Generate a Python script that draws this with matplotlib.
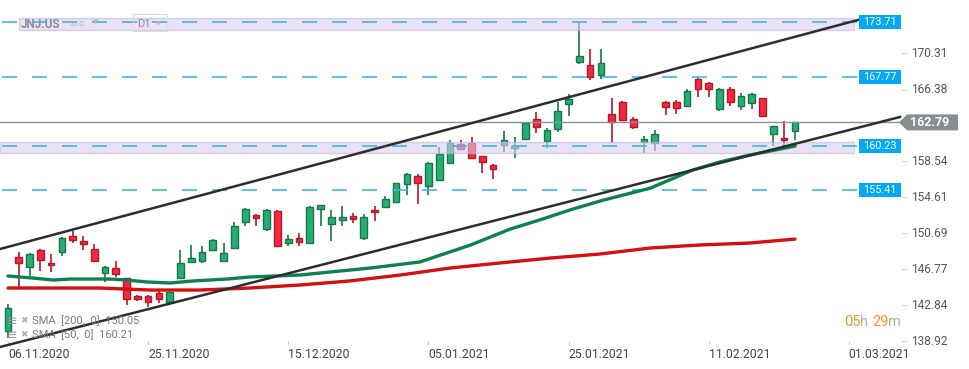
import numpy as np
import matplotlib
matplotlib.use("Agg")
import matplotlib.pyplot as plt
from matplotlib.patches import Rectangle, Polygon
from matplotlib.transforms import blended_transform_factory

plt.rcParams['font.family'] = ['Roboto', 'DejaVu Sans']

# ---------------------------------------------------------------------------
# Data: JNJ.US daily candles (bar index 0 = 06.11.2020)
# ---------------------------------------------------------------------------
opens = [140.02, 148.09, 147.00, 148.86, 147.44, 148.64, 150.39, 149.84, 148.97, 146.35,
         146.89, 145.80, 143.84, 143.84, 144.16, 143.18, 145.80, 147.55, 147.66, 148.86,
         147.66, 149.08, 151.92, 152.68, 151.15, 153.12, 149.62, 150.17, 149.62, 153.33,
         151.70, 152.13, 152.57, 150.17, 153.22, 153.55, 154.10, 156.06, 156.94, 155.84,
         156.50, 158.36, 160.43, 160.54, 159.12, 158.14, 160.32, 159.99, 160.98, 163.16,
         160.76, 162.07, 164.80, 169.38, 169.05, 167.96, 163.71, 165.02, 163.16, 160.65,
         160.54, 165.02, 165.02, 164.58, 167.53, 167.09, 164.25, 166.43, 164.58, 164.91,
         165.45, 161.52, 161.09, 161.85]
highs = [142.96, 148.64, 148.50, 149.00, 148.42, 150.28, 150.93, 150.39, 149.51, 147.11,
         147.66, 145.85, 143.95, 143.90, 144.38, 144.30, 148.86, 149.40, 149.29, 150.06,
         149.62, 151.92, 153.40, 152.75, 153.33, 153.22, 150.50, 150.71, 153.66, 153.80,
         153.22, 153.66, 152.90, 152.79, 153.66, 154.75, 156.20, 157.27, 157.16, 158.47,
         160.10, 160.87, 160.87, 161.19, 159.15, 158.25, 161.85, 161.19, 162.83, 163.92,
         162.18, 165.02, 165.89, 173.60, 170.80, 170.80, 165.45, 165.10, 163.38, 161.30,
         161.96, 165.10, 165.23, 166.43, 167.64, 167.20, 166.54, 166.65, 166.00, 166.00,
         165.50, 162.45, 162.94, 162.85]
lows = [139.25, 144.82, 146.02, 146.57, 146.46, 148.20, 149.62, 148.86, 147.66, 145.36,
        145.91, 142.85, 143.29, 142.63, 143.07, 143.10, 145.69, 147.44, 147.44, 148.86,
        147.66, 149.08, 151.48, 151.48, 150.93, 149.29, 149.29, 149.29, 149.62, 151.48,
        149.84, 151.48, 151.81, 149.95, 152.02, 153.55, 154.00, 154.86, 153.88, 154.86,
        156.50, 158.25, 159.77, 158.90, 157.26, 156.61, 159.56, 158.90, 160.98, 161.63,
        159.99, 161.74, 163.49, 169.16, 167.42, 167.53, 160.54, 162.94, 162.07, 159.45,
        159.67, 163.60, 163.71, 164.50, 165.56, 165.56, 164.03, 164.58, 164.14, 164.25,
        163.45, 160.21, 160.32, 160.87]
closes = [142.53, 147.44, 148.42, 147.77, 147.22, 150.17, 150.00, 149.51, 147.66, 147.00,
          146.24, 143.51, 143.51, 143.18, 143.51, 144.27, 147.44, 147.98, 148.64, 149.95,
          148.53, 151.48, 153.33, 152.35, 153.22, 149.29, 150.06, 149.73, 153.55, 153.77,
          152.46, 152.46, 152.24, 152.46, 153.01, 154.43, 156.17, 157.16, 156.17, 158.36,
          159.34, 160.54, 159.88, 158.90, 158.47, 157.70, 160.87, 160.21, 162.72, 162.29,
          161.96, 164.03, 165.34, 170.04, 167.74, 169.27, 162.83, 163.05, 162.29, 160.98,
          161.52, 164.47, 164.36, 166.22, 166.43, 166.43, 166.43, 165.02, 165.67, 165.89,
          163.49, 162.40, 160.87, 162.79]

# moving averages, read at a few bars
sma50_idx = [0, 2.3, 4.2, 5.8, 9.5, 11, 12.9, 15, 17.2, 20.3, 22.4, 27.1, 29.9, 33.6,
             38.2, 42.9, 46.6, 49.3, 52.1, 55.2, 59.6, 63.5, 66, 68.8, 73]
sma50_val = [146.02, 145.80, 145.58, 145.69, 145.69, 145.58, 145.37, 145.26, 145.48,
             145.69, 145.91, 146.13, 146.46, 146.89, 147.55, 149.40, 151.15, 152.13,
             153.22, 154.30, 155.62, 157.58, 158.46, 159.22, 160.21]
sma200_idx = [0, 8.5, 13.2, 17.8, 22.4, 27.1, 31.7, 36.4, 41, 45.6, 50.3, 54.9, 59.6,
              64.2, 68.8, 73]
sma200_val = [144.71, 144.71, 144.49, 144.49, 144.71, 145.04, 145.48, 146.13, 146.89,
              147.44, 147.98, 148.42, 149.08, 149.41, 149.62, 150.05]

# drawn objects
upper_chan_x = [-0.74, 78.85]
upper_chan_y = [148.97, 173.97]
lower_chan_x = [-0.74, 82.75]
lower_chan_y = [138.27, 163.38]
levels = [173.71, 167.77, 160.23, 155.41]
zone_low = [172.88, 159.45]
zone_high = [174.19, 160.65]
zone_start = [1.0, -0.74]
last_price = 162.79

price_ticks = [170.31, 166.38, 158.54, 154.61, 150.69, 146.77, 142.84, 138.92]
date_idx = [0, 13, 26, 39, 52, 65, 78]
date_labels = ["06.11.2020", "25.11.2020", "15.12.2020", "05.01.2021",
               "25.01.2021", "11.02.2021", "01.03.2021"]

# ---------------------------------------------------------------------------
# Figure
# ---------------------------------------------------------------------------
W, H = 970, 369
AX_W, AX_H, AX_B = 858, 345, 24
fig = plt.figure(figsize=(W / 100, H / 100), dpi=100)
ax = fig.add_axes([0, AX_B / H, AX_W / W, AX_H / H])
ax.set_xlim(-0.742, 78.85)
ax.set_ylim(138.49, 176.15)
for s in ax.spines.values():
    s.set_visible(False)

GREEN, GREEN_E = "#27ae74", "#187548"
RED, RED_E = "#f2293f", "#b3192b"
BLUE = "#03a9f4"

o = np.array(opens)
c = np.array(closes)
hi = np.array(highs)
lo = np.array(lows)
x = np.arange(len(o))
up = c >= o
px_price = (176.15 - 138.49) / AX_H

ax.vlines(x[up], lo[up], hi[up], color=GREEN_E, lw=1.2, zorder=2)
ax.vlines(x[~up], lo[~up], hi[~up], color=RED_E, lw=1.2, zorder=2)
body_h = np.maximum(np.abs(c - o), 2 * px_price)
ax.bar(x[up], body_h[up], bottom=np.minimum(o, c)[up], width=0.62,
       color=GREEN, edgecolor=GREEN_E, lw=1.0, zorder=3)
ax.bar(x[~up], body_h[~up], bottom=np.minimum(o, c)[~up], width=0.62,
       color=RED, edgecolor=RED_E, lw=1.0, zorder=3)

# zones
for z0, z1, xs in zip(zone_low, zone_high, zone_start):
    ax.add_patch(Rectangle((xs, z0), 78.5 - xs, z1 - z0, facecolor="#d9cfee",
                           edgecolor="#c2b4e0", lw=1.0, alpha=0.6, zorder=4))

# moving averages
ax.plot(sma200_idx, sma200_val, color="#d40f0f", lw=2.4, zorder=5,
        solid_capstyle="round")
ax.plot(sma50_idx, sma50_val, color="#0f8050", lw=2.4, zorder=5,
        solid_capstyle="round")

# horizontal levels
for lv in levels:
    ax.plot([-0.557, 78.85], [lv, lv], color="#42b4f0", lw=1.2,
            linestyle=(0, (9, 9)), zorder=4.5)

# current price line (goes into the label column)
ax.plot([-0.742, (899 - 8) / 10.78], [last_price, last_price], color="#8a9399",
        lw=1.0, zorder=4.6, clip_on=False)

# channel
ax.plot(upper_chan_x, upper_chan_y, color="#2a2e33", lw=1.8, zorder=6, clip_on=False)
ax.plot(lower_chan_x, lower_chan_y, color="#2a2e33", lw=1.8, zorder=6, clip_on=False)

# right-hand labels
tr = blended_transform_factory(ax.transAxes, ax.transData)
fx = lambda p: p / AX_W
for pt in price_ticks:
    ax.plot([fx(902), fx(907)], [pt, pt], color="#d8d8d8", lw=0.8,
            transform=tr, clip_on=False)
    ax.text(fx(911), pt, f"{pt:.2f}", transform=tr, ha="left", va="center",
            fontsize=8.6, color="#555555")

for lv in levels:
    hh = 7 * px_price
    ax.add_patch(Rectangle((fx(859), lv - hh), fx(42), 2 * hh, transform=tr,
                           facecolor=BLUE, edgecolor="none", clip_on=False, zorder=7))
    ax.text(fx(880), lv, f"{lv:.2f}", transform=tr, ha="center", va="center",
            fontsize=7.8, color="white", zorder=8)

th = 8 * px_price
ax.add_patch(Polygon([(fx(899), last_price), (fx(907), last_price + th),
                      (fx(958), last_price + th), (fx(958), last_price - th),
                      (fx(907), last_price - th)], closed=True, transform=tr,
                     facecolor="#868e92", edgecolor="none", clip_on=False, zorder=7))
ax.text(fx(930), last_price, f"{last_price:.2f}", transform=tr, ha="center",
        va="center", fontsize=9, fontweight="bold", color="white", zorder=8)

# date axis
ax.set_yticks([])
ax.set_xticks(date_idx)
ax.set_xticklabels(date_labels, ha="left", fontsize=8.8, color="#444444")
ax.tick_params(axis="x", direction="in", length=3, width=0.8, color="#d0d0d0", pad=2)
for lab in ax.get_xticklabels():
    lab.set_x(lab.get_position()[0])

# header
FX = lambda p: p / W
FY = lambda p: 1 - p / H
fig.text(FX(21), FY(24), "JNJ.US", fontsize=8.5, fontweight="bold",
         color="#8e8e9c", va="center", zorder=9)
fig.text(FX(70), FY(24), "STC", fontsize=6, color="#a8a8b4", va="center")
fig.text(FX(93), FY(23), "\u25BC", fontsize=5, color="#b4b4bc", va="center")
fig.patches.append(Rectangle((FX(133), FY(31)), FX(34), 17 / H, transform=fig.transFigure,
                             facecolor="none", edgecolor="#dcdce2", lw=0.8))
fig.text(FX(137), FY(24), "D1", fontsize=8, color="#8e8e9c", va="center")
fig.text(FX(156), FY(24), "\u25BC", fontsize=4.5, color="#b4b4bc", va="center")

# indicator legend
for yy, txt in [(321, "SMA  [200,  0]  150.05"), (335, "SMA  [50,  0]  160.21")]:
    fig.text(FX(7), FY(yy), "\u2261", fontsize=9, color="#9a9a9a", va="center")
    fig.text(FX(20), FY(yy), "\u2716", fontsize=6.5, color="#b0b0b0", va="center")
    fig.text(FX(32), FY(yy), txt, fontsize=8, color="#7a7a7a", va="center")

# session timer
fig.text(FX(844), FY(322), "05", fontsize=10.5, color="#f7931e", va="center")
fig.text(FX(860), FY(322), "h", fontsize=10.5, color="#b0b0b0", va="center")
fig.text(FX(872), FY(322), "29", fontsize=10.5, color="#f7931e", va="center")
fig.text(FX(888), FY(322), "m", fontsize=10.5, color="#b0b0b0", va="center")

fig.savefig("out.png", dpi=100)
